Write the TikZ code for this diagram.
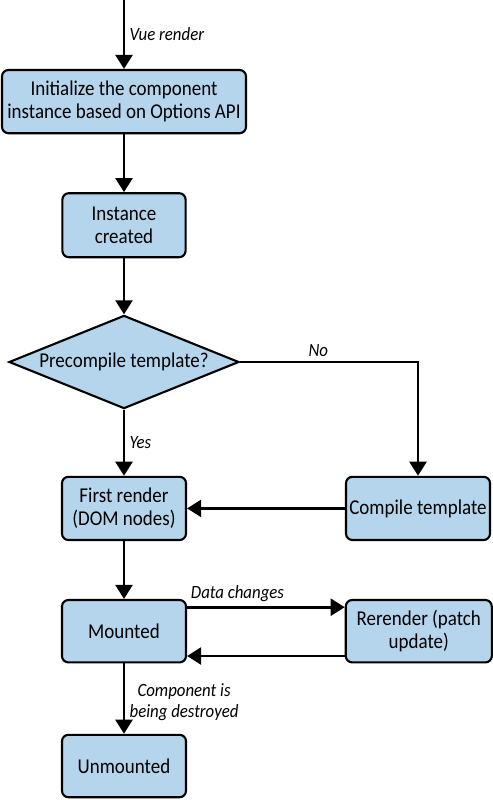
\documentclass[tikz,border=0pt]{standalone}
\usepackage{fontspec}
\setmainfont{Carlito}[FakeStretch=0.9]
\usetikzlibrary{arrows.meta,shapes.geometric}
\definecolor{boxblue}{RGB}{180,213,235}
\begin{document}
\begin{tikzpicture}[box/.style={rectangle,rounded corners=0.16cm,draw,line width=1.5pt,fill=boxblue,align=center,font=\fontsize{15}{16.5}\selectfont,inner sep=2pt},
        decision/.style={diamond,draw,line width=1.5pt,fill=boxblue,inner sep=0pt,aspect=2.47,minimum width=5.75cm,minimum height=2.33cm,font=\fontsize{15}{16.5}\selectfont},
        lbl/.style={font=\itshape\fontsize{13.3}{15}\selectfont,align=center,inner sep=3pt},
        flow/.style={line width=2pt,-{Triangle[width=12pt,length=10pt]}}]
            \useasboundingbox (0,0) rectangle (12.325,-20);
            \coordinate (start) at (3.1,0);
            \node[box,minimum width=6.1cm,minimum height=1.58cm] (init) at (3.1,-2.54) {Initialize the component\\instance based on Options API};
            \node[box,minimum width=3.08cm,minimum height=1.6cm] (inst) at (3.1,-5.63) {Instance\\created};
            \node[decision] (prec) at (3.1,-9.05) {Precompile template?};
            \node[box,minimum width=3.1cm,minimum height=1.58cm] (first) at (3.1,-12.71) {First render\\(DOM nodes)};
            \node[box,minimum width=3.6cm,minimum height=1.58cm] (compile) at (10.45,-12.71) {Compile template};
            \node[box,minimum width=3.1cm,minimum height=1.56cm] (mount) at (3.1,-15.78) {Mounted};
            \node[box,minimum width=3.65cm,minimum height=1.56cm] (rerender) at (10.47,-15.78) {Rerender (patch\\update)};
            \node[box,minimum width=3.1cm,minimum height=1.56cm] (unmount) at (3.1,-19.15) {Unmounted};

            \path [flow] (start) edge node[lbl,right] {Vue render} (init);
            \path [flow] (init) edge (inst);
            \path [flow] (inst) edge (prec);
            \path [flow] (prec) edge node[lbl,right] {Yes} (first);
            \draw [flow] (prec.east) -| node[lbl,above,pos=0.22] {No} (compile.north);
            \path [flow] (compile) edge (first);
            \path [flow] (first) edge (mount);
            \path [flow] ([yshift=0.6cm]mount.east) edge node[lbl,above,pos=0.32] {Data changes} ([yshift=0.6cm]rerender.west);
            \path [flow] ([yshift=-0.62cm]rerender.west) edge ([yshift=-0.62cm]mount.east);
            \path [flow] (mount) edge node[lbl,right,yshift=-0.1cm] {Component is\\being destroyed} (unmount);
        \end{tikzpicture}
\end{document}
